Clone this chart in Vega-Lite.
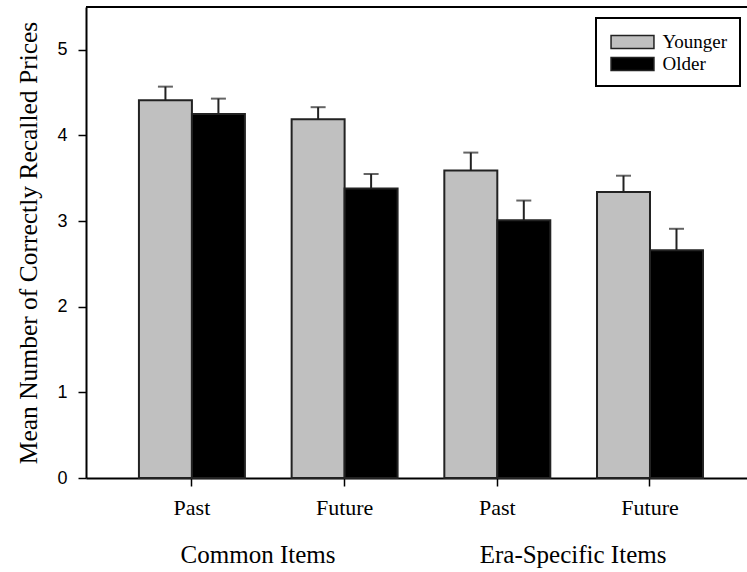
{
  "$schema": "https://vega.github.io/schema/vega-lite/v6.json",
  "autosize": {"type": "none"},
  "padding": {"left": 86, "top": 7, "right": 0, "bottom": 94},
  "width": 661,
  "height": 471,
  "background": "white",
  "config": {
    "view": {"stroke": null},
    "legend": {"strokeWidth": 2}
  },
  "data": {
    "values": [
      {"condition": "Common Items: Past", "group": "Common Items", "age": "Younger", "mean": 4.41, "upper": 4.57},
      {"condition": "Common Items: Past", "group": "Common Items", "age": "Older", "mean": 4.25, "upper": 4.43},
      {"condition": "Common Items: Future", "group": "Common Items", "age": "Younger", "mean": 4.19, "upper": 4.33},
      {"condition": "Common Items: Future", "group": "Common Items", "age": "Older", "mean": 3.38, "upper": 3.55},
      {"condition": "Era-Specific Items: Past", "group": "Era-Specific Items", "age": "Younger", "mean": 3.59, "upper": 3.80},
      {"condition": "Era-Specific Items: Past", "group": "Era-Specific Items", "age": "Older", "mean": 3.01, "upper": 3.24},
      {"condition": "Era-Specific Items: Future", "group": "Era-Specific Items", "age": "Younger", "mean": 3.34, "upper": 3.53},
      {"condition": "Era-Specific Items: Future", "group": "Era-Specific Items", "age": "Older", "mean": 2.66, "upper": 2.91}
    ]
  },
  "resolve": {"scale": {"x": "independent"}, "axis": {"x": "independent"}},
  "layer": [
    {
      "encoding": {
        "x": {
          "field": "condition", "type": "nominal", "sort": null,
          "scale": {"paddingInner": 0.306, "paddingOuter": 0.3175, "align": 0.546},
          "axis": {
            "title": null, "orient": "bottom",
            "labelExpr": "split(datum.label, ': ')[1]",
            "labelAngle": 0, "labelFont": "Liberation Serif", "labelFontSize": 22,
            "labelColor": "black", "labelPadding": 11,
            "tickSize": 8, "tickColor": "black", "tickWidth": 1.5,
            "domainColor": "black", "domainWidth": 2
          }
        },
        "xOffset": {"field": "age", "type": "nominal", "sort": ["Younger", "Older"], "scale": {"paddingInner": 0, "paddingOuter": 0}}
      },
      "layer": [
        {
          "mark": {"type": "bar", "stroke": "#222", "strokeWidth": 2},
          "encoding": {
            "y": {
              "field": "mean", "type": "quantitative",
              "scale": {"domain": [0, 5.5], "nice": false},
              "axis": {
                "title": "Mean Number of Correctly Recalled Prices",
                "titleFont": "Liberation Serif", "titleFontSize": 25.5, "titleFontWeight": "normal",
                "titleColor": "black", "titlePadding": 15,
                "values": [0, 1, 2, 3, 4, 5], "format": "d", "grid": false,
                "labelFont": "Liberation Sans", "labelFontSize": 18, "labelColor": "black", "labelPadding": 11,
                "tickSize": 8, "tickColor": "black", "tickWidth": 1.5,
                "domainColor": "black", "domainWidth": 2
              }
            },
            "color": {
              "field": "age", "type": "nominal", "sort": ["Younger", "Older"],
              "scale": {"domain": ["Younger", "Older"], "range": ["#c0c0c0", "#000000"]},
              "legend": {
                "title": null, "orient": "none", "legendX": 510, "legendY": 11,
                "strokeColor": "black", "fillColor": "white", "padding": 12,
                "symbolType": "M-1.95,-0.6H1.95V0.6H-1.95Z", "symbolSize": 484,
                "symbolStrokeColor": "#222", "symbolStrokeWidth": 1.5, "symbolOffset": 12.5,
                "labelFont": "Liberation Serif", "labelFontSize": 19, "labelColor": "black",
                "labelOffset": 18, "rowPadding": 0
              }
            }
          }
        },
        {
          "mark": {"type": "rule", "color": "#222", "strokeWidth": 2},
          "encoding": {
            "y": {"field": "mean", "type": "quantitative"},
            "y2": {"field": "upper"}
          }
        },
        {
          "mark": {"type": "tick", "color": "#222", "thickness": 2, "size": 15},
          "encoding": {
            "y": {"field": "upper", "type": "quantitative"}
          }
        }
      ]
    },
    {
      "mark": {"type": "rule", "color": "black", "strokeWidth": 2},
      "encoding": {"y": {"datum": 5.5, "type": "quantitative"}}
    },
    {
      "mark": {"type": "rule", "opacity": 0},
      "encoding": {
        "x": {
          "field": "group", "type": "nominal", "sort": null,
          "scale": {"paddingInner": 0, "paddingOuter": 0.049, "align": 0.468},
          "axis": {
            "title": null, "orient": "bottom", "labelAngle": 0,
            "labelFont": "Liberation Serif", "labelFontSize": 25, "labelColor": "black",
            "labelPadding": 64, "labelLimit": 400, "ticks": false, "domain": false
          }
        }
      }
    }
  ]
}
